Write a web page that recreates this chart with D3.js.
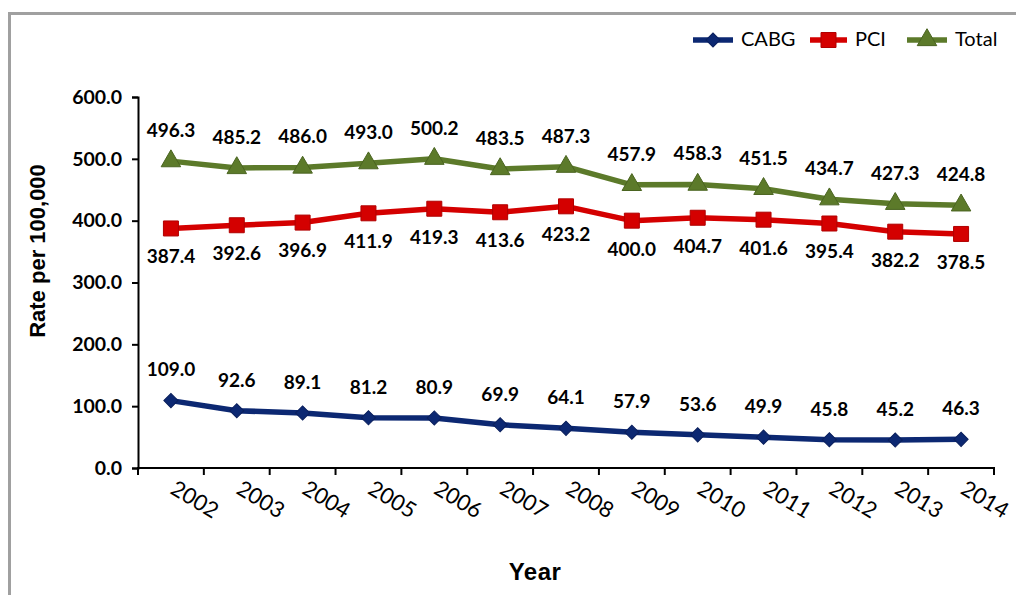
<!DOCTYPE html>
<html>
<head>
<meta charset="utf-8">
<script src="https://cdn.jsdelivr.net/npm/d3@7"></script>
<style>
  html, body { margin: 0; padding: 0; background: #fff; }
  svg { display: block; font-family: "Lato", "Open Sans", sans-serif; }
</style>
</head>
<body>
<svg id="chart" width="1016" height="595"></svg>
<script>
// Procedure rates per 100,000, 2002–2014
const years = ["2002","2003","2004","2005","2006","2007","2008","2009","2010","2011","2012","2013","2014"];
const cabg  = [109.0, 92.6, 89.1, 81.2, 80.9, 69.9, 64.1, 57.9, 53.6, 49.9, 45.8, 45.2, 46.3];
const pci   = [387.4, 392.6, 396.9, 411.9, 419.3, 413.6, 423.2, 400.0, 404.7, 401.6, 395.4, 382.2, 378.5];
const total = [496.3, 485.2, 486.0, 493.0, 500.2, 483.5, 487.3, 457.9, 458.3, 451.5, 434.7, 427.3, 424.8];
const yTicks = [0, 100, 200, 300, 400, 500, 600];

const series = [
  { name: "CABG",  values: cabg,  color: "#0c2872", stroke: "#0a1f5c", shape: d3.symbolSquare,   size: 100, rot: 45, labelPos: "above" },
  { name: "PCI",   values: pci,   color: "#d40000", stroke: "#b00000", shape: d3.symbolSquare,   size: 225, rot: 0,  labelPos: "below" },
  { name: "Total", values: total, color: "#5c7a2a", stroke: "#4a6420", shape: d3.symbolTriangle, size: 165, rot: 0,  labelPos: "above" }
];

const svg = d3.select("#chart");

// outer frame
svg.append("path")
  .attr("d", "M9.5,595 L9.5,13.5 L1016,13.5")
  .attr("fill", "none").attr("stroke", "#a0a0a0").attr("stroke-width", 3);

const plotLeft = 138, plotRight = 994, plotTop = 97, plotBottom = 468;

const x = d3.scaleBand().domain(years).range([plotLeft, plotRight]);
const y = d3.scaleLinear().domain([0, 600]).range([plotBottom, plotTop]);

// y axis
const yAxis = svg.append("g")
  .attr("transform", `translate(${plotLeft},0)`)
  .call(d3.axisLeft(y).tickValues(yTicks).tickFormat(d3.format(".1f")).tickSizeOuter(0).tickSize(6).tickPadding(10));
yAxis.select(".domain").attr("stroke", "#000").attr("stroke-width", 2);
yAxis.selectAll(".tick line").attr("stroke", "#000").attr("stroke-width", 2);
yAxis.selectAll(".tick text")
  .attr("font-size", 19.5).attr("font-weight", "bold").attr("fill", "#000")
  .attr("font-family", "Lato, sans-serif");

// x axis with ticks at band edges
const xAxis = svg.append("g").attr("transform", `translate(0,${plotBottom})`);
xAxis.append("line").attr("x1", plotLeft).attr("x2", plotRight).attr("stroke", "#000").attr("stroke-width", 2);
const edges = years.map(d => x(d)).concat([plotRight]);
xAxis.selectAll("line.tk").data(edges).join("line").attr("class", "tk")
  .attr("x1", d => d).attr("x2", d => d).attr("y1", -1).attr("y2", 7)
  .attr("stroke", "#000").attr("stroke-width", 2);
xAxis.selectAll("text").data(years).join("text")
  .attr("transform", d => `translate(${x(d) + x.bandwidth() / 2 + 1},${20}) rotate(31)`)
  .attr("text-anchor", "start").attr("dominant-baseline", "middle")
  .attr("font-size", 22).attr("fill", "#000")
  .text(d => d);

// axis titles
svg.append("text")
  .attr("transform", `translate(45,251) rotate(-90)`)
  .attr("text-anchor", "middle").attr("font-size", 22).attr("font-weight", "bold")
  .attr("font-family", "Liberation Sans, Arial, sans-serif")
  .text("Rate per 100,000");
svg.append("text")
  .attr("x", 535).attr("y", 580)
  .attr("text-anchor", "middle").attr("font-size", 24).attr("font-weight", "bold")
  .attr("letter-spacing", 0.5)
  .attr("font-family", "Liberation Sans, Arial, sans-serif")
  .text("Year");

const cx = d => x(d) + x.bandwidth() / 2;
const line = d3.line().x((v, i) => cx(years[i])).y(v => y(v));

series.forEach(s => {
  const g = svg.append("g");
  g.append("path").datum(s.values)
    .attr("d", line).attr("fill", "none")
    .attr("stroke", s.color).attr("stroke-width", 5.5).attr("stroke-linejoin", "round");
  g.selectAll("path.m").data(s.values).join("path").attr("class", "m")
    .attr("transform", (v, i) => `translate(${cx(years[i])},${y(v)}) rotate(${s.rot})`)
    .attr("d", d3.symbol(s.shape, s.size))
    .attr("fill", s.color).attr("stroke", s.stroke).attr("stroke-width", 1);
  g.selectAll("text").data(s.values).join("text")
    .attr("x", (v, i) => cx(years[i]))
    .attr("y", v => s.labelPos === "above" ? y(v) - 29 : y(v) + 30)
    .attr("text-anchor", "middle").attr("dominant-baseline", "middle")
    .attr("font-size", 19).attr("font-weight", "bold").attr("fill", "#000")
    .text(v => v.toFixed(1));
});

// legend
const legendX = [693, 810, 907];
const legendLen = [40, 37, 40];
const legend = svg.append("g");
series.forEach((s, i) => {
  const g = legend.append("g").attr("transform", `translate(${legendX[i]},40)`);
  g.append("line").attr("x1", 0).attr("x2", legendLen[i]).attr("stroke", s.color).attr("stroke-width", 5.5);
  g.append("path").attr("transform", `translate(${legendLen[i] / 2},0) rotate(${s.rot})`)
    .attr("d", d3.symbol(s.shape, s.size))
    .attr("fill", s.color).attr("stroke", s.stroke).attr("stroke-width", 1);
  g.append("text").attr("x", legendLen[i] + 8).attr("y", 1)
    .attr("dominant-baseline", "middle").attr("font-size", 20).attr("fill", "#000")
    .text(s.name);
});
</script>
</body>
</html>
